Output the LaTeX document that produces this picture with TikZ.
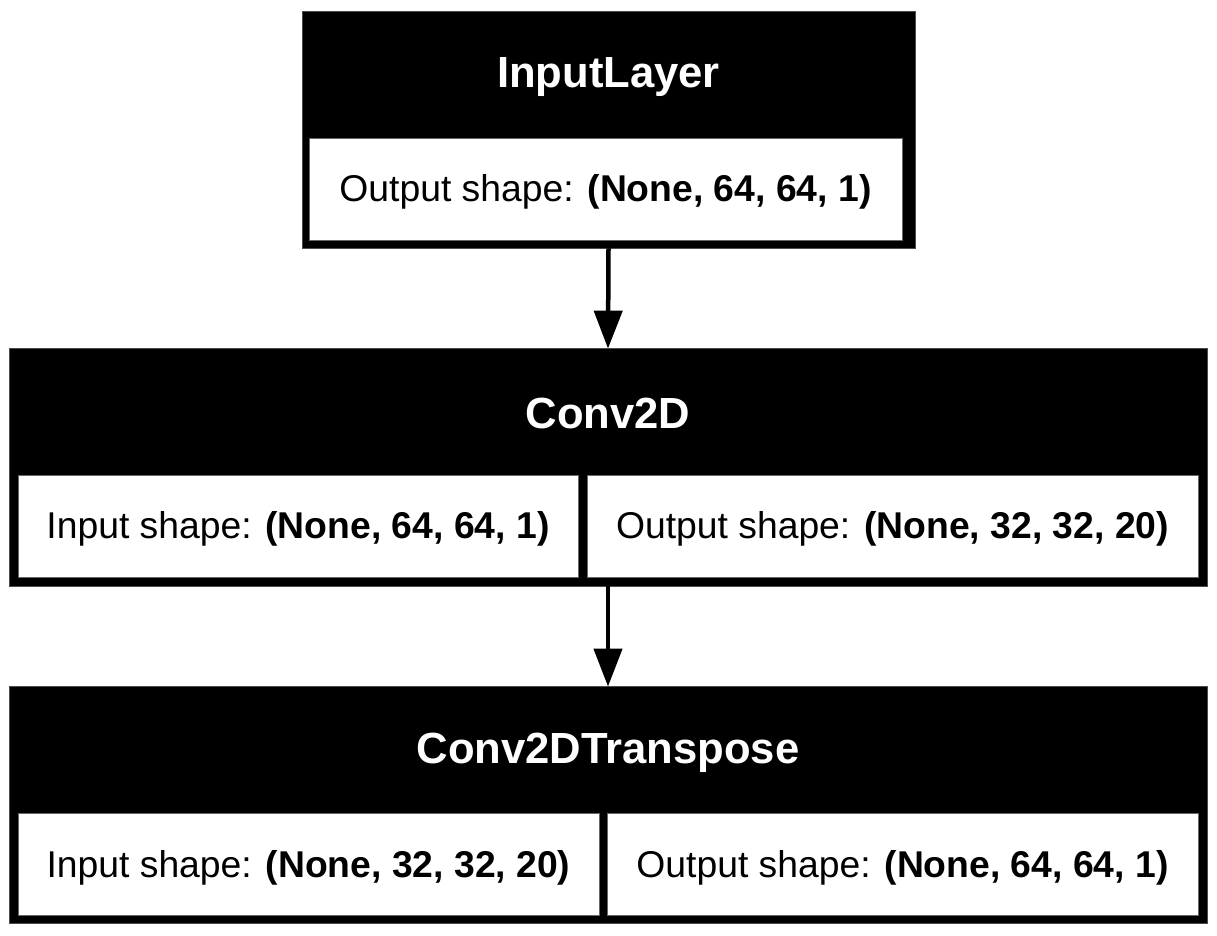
\documentclass[tikz,border=0pt]{standalone}
\usepackage{fontspec}
\setmainfont{Liberation Sans}
\usetikzlibrary{arrows.meta}
\begin{document}
\begin{tikzpicture}[x=1pt,y=1pt,
  layerbox/.style={draw=black!70, line width=0.8pt, fill=black, inner sep=0pt, minimum height=237pt},
  cellbox/.style={draw=black!60, line width=0.8pt, fill=white, inner sep=0pt, minimum height=102pt,
    text height=34pt, text depth=8pt, font=\fontsize{37.3}{40}\selectfont},
  titletext/.style={text=white, inner sep=0pt, font=\fontsize{43.6}{46}\selectfont\bfseries},
  flow/.style={line width=4.5pt, -{Triangle[length=38pt,width=28pt]}, shorten >=-1pt}
]
\useasboundingbox (0,0) rectangle (1217,935);
\fill[white] (0,0) rectangle (1217,935);

% InputLayer
\node[layerbox, minimum width=613pt] (inp) at (608.5,805.5) {};
\node[titletext] (inpT) at (608.5,857.5) {InputLayer};
\node[cellbox, minimum width=593pt] (inpO) at (605.5,746) {Output shape: \textbf{(None, 64, 64, 1)}};

% Conv2D
\node[layerbox, minimum width=1198pt, minimum height=238pt] (conv) at (608,468) {};
\node[titletext] (convT) at (608,521.5) {Conv2D};
\node[cellbox, minimum width=560pt] (convI) at (298,409) {Input shape: \textbf{(None, 64, 64, 1)}};
\node[cellbox, minimum width=611pt] (convO) at (892.5,409) {Output shape: \textbf{(None, 32, 32, 20)}};

% Conv2DTranspose
\node[layerbox, minimum width=1198pt] (tconv) at (608,130.5) {};
\node[titletext] (tconvT) at (608,182.5) {Conv2DTranspose};
\node[cellbox, minimum width=581pt] (tconvI) at (308.5,71) {Input shape: \textbf{(None, 32, 32, 20)}};
\node[cellbox, minimum width=591pt] (tconvO) at (902.5,71) {Output shape: \textbf{(None, 64, 64, 1)}};

% connectors
\draw[flow] (inp.south) -- (conv.north);
\draw[flow] (conv.south) -- (tconv.north);
\end{tikzpicture}
\end{document}
